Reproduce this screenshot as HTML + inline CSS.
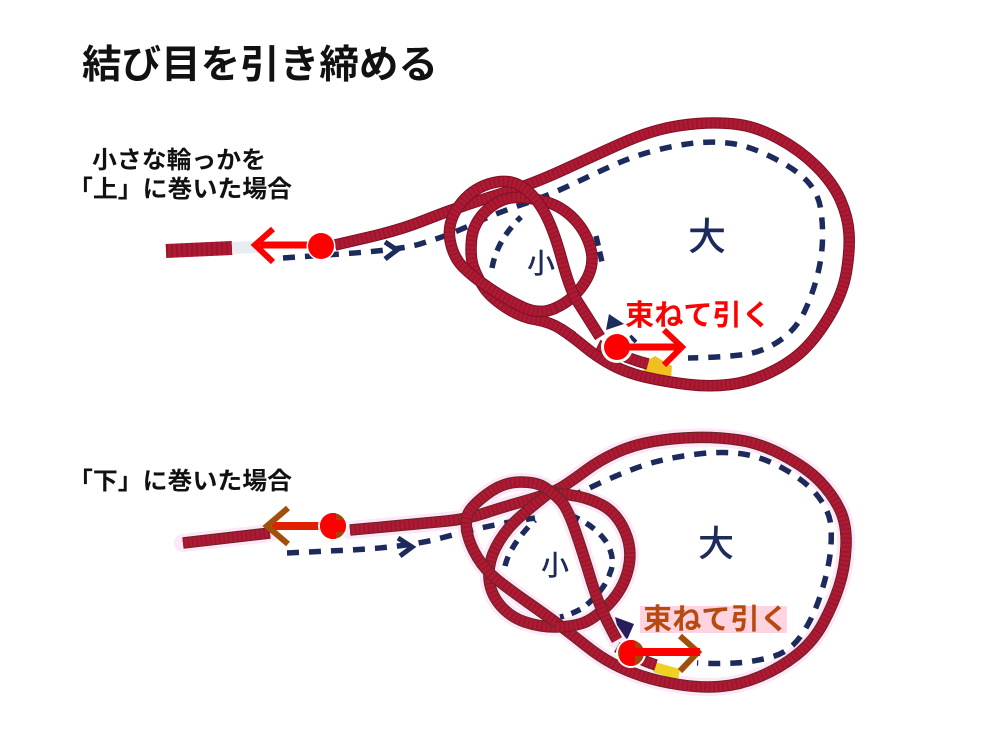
<!DOCTYPE html>
<html><head><meta charset="utf-8"><style>
html,body{margin:0;padding:0;background:#fff}
svg{display:block}
text{font-family:"Liberation Sans","Noto Sans CJK JP",sans-serif;font-weight:700}
.h{fill:none;stroke:#ffe6f8;stroke-width:18;stroke-linecap:round;stroke-linejoin:round}
.o{fill:none;stroke:#7e1024;stroke-width:11.5;stroke-linejoin:round}
.b{fill:none;stroke:#ad1a34;stroke-width:9.5;stroke-linejoin:round}
.t{fill:none;stroke:#8c1026;stroke-width:9.5;stroke-dasharray:1.5 3;opacity:.5}
.o2{fill:none;stroke:#5e2a22;stroke-width:11.5;stroke-linejoin:round}
.d{fill:none;stroke:#1d2a5c;stroke-width:5.5;stroke-dasharray:12 10}
</style></head><body>
<svg width="990" height="742" viewBox="0 0 990 742" xmlns="http://www.w3.org/2000/svg">
<defs>
<path id="a1" d="M335 245L367.5 237.5Q400 230 422.5 221Q445 212 467.5 204.5Q490 197 512.5 190Q535 183 567.5 168Q600 153 620 144Q640 135 658.5 130Q677 125 698.5 123.5Q720 122 738.5 124.5Q757 127 778.5 138.5Q800 150 816.5 166.5Q833 183 840.5 200Q848 217 849 233.5Q850 250 846.5 271.5Q843 293 830 315Q817 337 803.5 350Q790 363 770 372.5Q750 382 730 384.5Q710 387 688.5 384.5Q667 382 647 377.5Q627 373 612 365Q597 357 585 347Q573 337 561 329"/>
<path id="a2" d="M573 337L561 329Q550 322 535 319.5Q520 317 505 307Q490 297 483.5 287Q477 277 473.5 267Q470 257 471.5 240Q473 223 486.5 210.5Q500 198 515 197.5Q530 197 546.5 202Q563 207 575 220Q587 233 591 250Q595 267 584 283.5Q573 300 556.5 307.5Q540 315 530 311"/>
<path id="a3" d="M556 308Q540 315 523.5 307.5Q507 300 490 288.5Q473 277 463 267Q453 257 450 240Q447 223 458.5 206.5Q470 190 488.5 184Q507 178 520 185.5Q533 193 543 210Q553 227 561.5 258.5Q570 290 576.5 300Q583 310 600 337"/>
<path id="a4" d="M598 345Q625 358 648 364"/>
<path id="b1" d="M183 543L270 533"/>
<path id="b2" d="M350 530L388.5 526.5Q427 523 447 521Q467 519 485 513Q503 507 528 500Q553 493 563 486.5Q573 480 586.5 470Q600 460 616.5 452.5Q633 445 653 441.5Q673 438 695 437.5Q717 437 738.5 440Q760 443 783.5 455.5Q807 468 820 481.5Q833 495 840 510Q847 525 846 546.5Q845 568 839 586.5Q833 605 823 623.5Q813 642 796.5 655Q780 668 760 676.5Q740 685 720 686.5Q700 688 678.5 684.5Q657 681 642 676Q627 671 613.5 664Q600 657 585 645Q570 633 556.5 623Q543 613 526.5 601.5"/>
<path id="b3" d="M553 493L570 495Q587 497 602 505Q617 513 625 531.5Q633 550 628 570Q623 590 608 605Q593 620 581.5 623.5Q570 627 555 627Q540 627 525 622Q510 617 500 605Q490 593 489 578Q488 563 495.5 548Q503 533 515 521.5Q527 510 553 490"/>
<path id="b4" d="M556.5 623Q543 613 526.5 601.5Q510 590 497.5 580Q485 570 477.5 557.5Q470 545 467.5 534Q465 523 467.5 515Q470 507 486.5 494.5Q503 482 520 482Q537 482 545 487.5Q553 493 560 500Q567 507 575 530Q583 553 591.5 581.5Q600 610 617 640"/>
<path id="b5" d="M617 647Q640 660 656 665"/>
<clipPath id="c1"><circle cx="333" cy="526" r="13"/></clipPath>
<clipPath id="c2"><circle cx="631" cy="653" r="13"/></clipPath>
</defs>

<text x="82" y="78" font-size="39" textLength="356" lengthAdjust="spacingAndGlyphs" fill="#111">結び目を引き締める</text>
<text x="92" y="168" font-size="24" textLength="174" lengthAdjust="spacingAndGlyphs" fill="#111">小さな輪っかを</text>
<text x="68" y="197" font-size="24" textLength="224" lengthAdjust="spacingAndGlyphs" fill="#111">「上」に巻いた場合</text>
<text x="68" y="489" font-size="24" textLength="224" lengthAdjust="spacingAndGlyphs" fill="#111">「下」に巻いた場合</text>

<!-- top dashed -->
<path class="d" d="M283 258L340 254Q400 250 420 244Q440 238 453.5 232.5Q467 227 482 220Q497 213 523.5 204Q550 195 576 182.5Q602 170 619.5 162.5Q637 155 657 150Q677 145 695 143Q713 141 731.5 143.5Q750 146 773.5 158Q797 170 807.5 181.5Q818 193 820.5 208Q823 223 822.5 240Q822 257 817.5 275Q813 293 805 310.5Q797 328 782 339Q767 350 750 353.5Q733 357 688 358"/>
<path d="M385 242L397 250L385 259" fill="none" stroke="#1d2a5c" stroke-width="5"/>
<path class="d" style="stroke-dasharray:10 8" d="M492 268Q497 240 521 217"/>
<path class="d" style="stroke-dasharray:10 6" d="M596 236L602 262"/>
<path d="M606 330L609 314L624 324Z" fill="#1d2a5c"/>
<path d="M630 336L636 342" stroke="#1d2a5c" stroke-width="4"/>
<text x="527" y="273" font-size="28" style="font-weight:500" fill="#1d2a5c">小</text>
<text x="688" y="250" font-size="38" style="font-weight:500" fill="#1d2a5c">大</text>
<path d="M645 362L655 356L672 366L671 379L643 373Z" fill="#f0c020"/>

<!-- top rope -->
<path d="M166 251L232 248" fill="none" stroke="#ad1a34" stroke-width="14"/>
<path d="M166 251L232 248" fill="none" stroke="#8c1026" stroke-width="14" stroke-dasharray="2 3" opacity=".5"/>
<path d="M232 248L258 247" fill="none" stroke="#e8edf4" stroke-width="12"/>
<use href="#a1" class="o"/><use href="#a1" class="b"/><use href="#a1" class="t"/>
<use href="#a4" class="o"/><use href="#a4" class="b"/><use href="#a4" class="t"/>
<use href="#a2" class="o"/><use href="#a2" class="b"/><use href="#a2" class="t"/>
<use href="#a3" class="o"/><use href="#a3" class="b"/><use href="#a3" class="t"/>

<!-- top arrows -->
<path d="M320 245H260" stroke="#f00" stroke-width="7" fill="none"/>
<path d="M273 229L255 245L273 262" stroke="#f00" stroke-width="6" fill="none"/>
<circle cx="321" cy="246" r="14.5" fill="#fff"/><circle cx="321" cy="246" r="13" fill="#f00"/>
<text x="625" y="325" font-size="29" textLength="146" lengthAdjust="spacingAndGlyphs" fill="#f00">束ねて引く</text>
<circle cx="617" cy="347" r="16" fill="#fff"/>
<path d="M617 347H680" stroke="#f00" stroke-width="7" fill="none"/>
<path d="M664 330L682 347L664 365" stroke="#f00" stroke-width="6" fill="none"/>
<circle cx="617" cy="347" r="13" fill="#f00"/>

<!-- bottom halo -->
<use href="#b1" class="h"/><use href="#b2" class="h"/><use href="#b3" class="h"/><use href="#b4" class="h"/>

<!-- bottom dashed -->
<path class="d" d="M287 553L350 550Q410 547 445 537Q482 527 510 522L535 518"/>
<path d="M398 538L412 547L400 556" fill="none" stroke="#1d2a5c" stroke-width="5"/>
<path class="d" d="M570 497L600 483Q633 468 653 462.5Q673 457 698 454Q723 451 743 454Q763 457 785 469.5Q807 482 818.5 497Q830 512 831 527Q832 542 829.5 558.5Q827 575 820 596.5Q813 618 801.5 635Q790 652 771.5 657Q753 662 735 663Q717 664 697 663"/>
<path class="d" style="stroke-dasharray:10 8" d="M505 566Q510 545 535 520"/>
<path class="d" style="stroke-dasharray:10 8" d="M570 515Q595 525 607 543Q616 560 610 573Q605 590 583 608Q570 615 560 617"/>
<path d="M617 625L615 617L634 624L627 640Z" fill="#2a1d5c"/>
<text x="541" y="575" font-size="28" style="font-weight:500" fill="#1d2a5c">小</text>
<text x="698" y="556" font-size="36" style="font-weight:500" fill="#1d2a5c">大</text>
<path d="M655 662L680 669L678 680L653 672Z" fill="#f0d020"/>

<!-- bottom rope -->
<use href="#b1" class="o2"/><use href="#b1" class="b"/><use href="#b1" class="t"/>
<use href="#b2" class="o2"/><use href="#b2" class="b"/><use href="#b2" class="t"/>
<use href="#b5" class="o2"/><use href="#b5" class="b"/><use href="#b5" class="t"/>
<use href="#b3" class="o2"/><use href="#b3" class="b"/><use href="#b3" class="t"/>
<use href="#b4" class="o2"/><use href="#b4" class="b"/><use href="#b4" class="t"/>

<!-- bottom arrows -->
<path d="M333 526H272" stroke="#e02000" stroke-width="8" fill="none"/>
<path d="M288 508L267 526L288 544" stroke="#a0500a" stroke-width="6" fill="none"/>
<circle cx="333" cy="526" r="15" fill="#fff"/><circle cx="333" cy="526" r="13" fill="#a8430c"/>
<g clip-path="url(#c1)"><rect x="318" y="510" width="18" height="32" fill="#f00"/><rect x="318" y="520" width="30" height="12" fill="#f00"/></g>
<rect x="640" y="606" width="147" height="27" fill="#ffd4e0"/>
<text x="643" y="629" font-size="29" textLength="146" lengthAdjust="spacingAndGlyphs" fill="#b84a10">束ねて引く</text>
<circle cx="631" cy="653" r="15" fill="#fff"/><circle cx="631" cy="653" r="13" fill="#a8430c"/>
<path d="M680 636L698 652L680 671" stroke="#a0500a" stroke-width="6" fill="none"/>
<g clip-path="url(#c2)"><rect x="620" y="638" width="15" height="30" fill="#f00"/></g>
<path d="M631 652H700" stroke="#f00" stroke-width="8" fill="none"/>
</svg>
</body></html>
